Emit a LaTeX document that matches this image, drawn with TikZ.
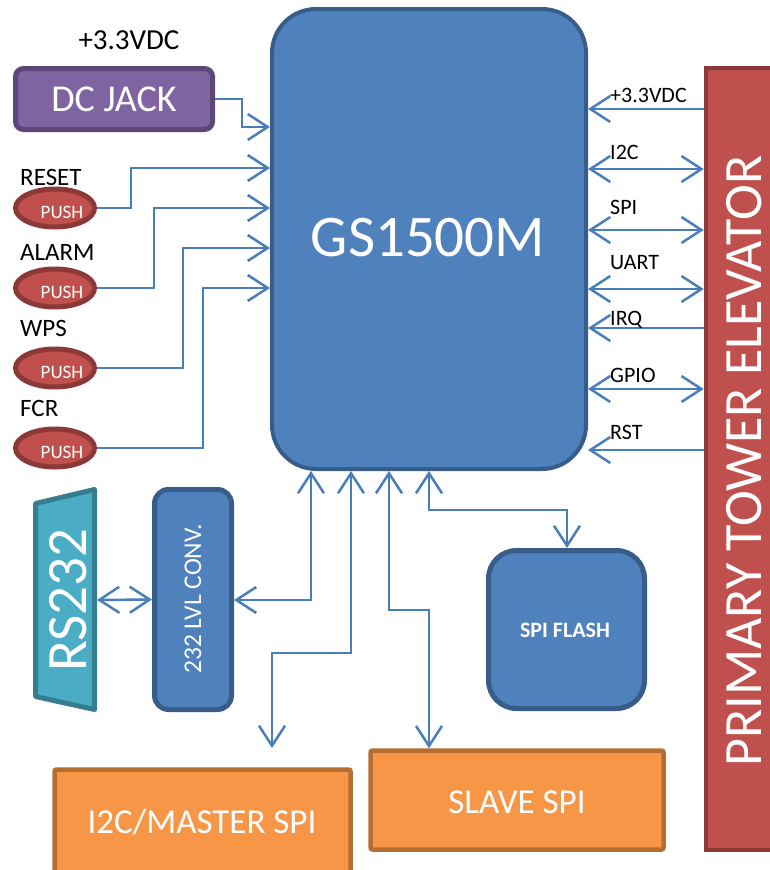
\documentclass[tikz,border=0pt]{standalone}
\usepackage{fontspec}
\setmainfont{Carlito}
\usetikzlibrary{arrows.meta,shapes.geometric}
\definecolor{gsfill}{HTML}{4F81BD}
\definecolor{gsline}{HTML}{385D8A}
\definecolor{redfill}{HTML}{C0504D}
\definecolor{redline}{HTML}{8C3836}
\definecolor{purfill}{HTML}{8064A2}
\definecolor{purline}{HTML}{5C4776}
\definecolor{orfill}{HTML}{F79646}
\definecolor{orline}{HTML}{B66D31}
\definecolor{cyfill}{HTML}{4BACC6}
\definecolor{cyline}{HTML}{357D91}
\definecolor{arrc}{HTML}{4A7EBB}
\tikzset{
  conn/.style={draw=arrc, line width=2.5pt},
  a1/.style={conn, -{Straight Barb[length=20pt,width=26pt]}},
  a0/.style={conn, {Straight Barb[length=20pt,width=26pt]}-},
  a2/.style={conn, {Straight Barb[length=20pt,width=26pt]}-{Straight Barb[length=20pt,width=26pt]}},
  bluebox/.style={draw=gsline, fill=gsfill, line width=4.5pt, inner sep=0pt},
  redbox/.style={draw=redline, fill=redfill, line width=4.5pt, inner sep=0pt},
  orbox/.style={draw=orline, fill=orfill, line width=4.5pt, inner sep=0pt, rounded corners=2pt},
  pushbtn/.style={ellipse, draw=redline, fill=redfill, line width=5pt, inner sep=0pt, minimum width=79pt, minimum height=38pt},
  wtxt/.style={text=white, inner sep=0pt},
  lbl/.style={text=black, inner sep=0pt, anchor=west, font=\fontsize{25}{27}\selectfont},
  rlbl/.style={text=black, inner sep=0pt, anchor=west, font=\fontsize{22}{24}\selectfont},
  pushtxt/.style={wtxt, font=\fontsize{19}{21}\selectfont},
}
\begin{document}
\begin{tikzpicture}[x=1pt, y=-1pt]
\useasboundingbox (0,0) rectangle (770,870);
\clip (0,0) rectangle (770,870);
% main chip
\node[bluebox, line width=4pt, minimum width=314pt, minimum height=460pt, rounded corners=44pt] (gs) at (429,239) {};
\node[wtxt, font=\fontsize{59}{62}\selectfont] (gst) at (428,238) {GS1500M};
% primary tower elevator
\node[redbox, minimum width=70pt, minimum height=782pt] (pte) at (741,459) {};
\node[wtxt, rotate=90, font=\fontsize{54}{58}\selectfont] (ptet) at (744,461) {PRIMARY TOWER ELEVATOR};
% DC jack
\node[draw=purline, fill=purfill, line width=5pt, inner sep=0pt, minimum width=197pt, minimum height=61pt, rounded corners=8pt] (dc) at (114,99) {};
\node[wtxt, font=\fontsize{38}{40}\selectfont] (dct) at (114,99) {DC JACK};
\node[text=black, inner sep=0pt, font=\fontsize{29}{31}\selectfont] (v33) at (129,40) {+3.3VDC};
% push buttons
\node[pushbtn] (b1) at (55,208) {};
\node[pushbtn] (b2) at (55,288) {};
\node[pushbtn] (b3) at (55,368) {};
\node[pushbtn] (b4) at (55,448) {};
\node[pushtxt] (p1) at (62,212) {PUSH};
\node[pushtxt] (p2) at (62,292) {PUSH};
\node[pushtxt] (p3) at (62,372) {PUSH};
\node[pushtxt] (p4) at (62,452) {PUSH};
\node[lbl] (l1) at (20,177) {RESET};
\node[lbl] (l2) at (20,252) {ALARM};
\node[lbl] (l3) at (20,328) {WPS};
\node[lbl] (l4) at (20,408) {FCR};
% RS232
\draw[draw=cyline, fill=cyfill, line width=5pt, line join=round] (35.5,503.5) -- (94.5,489.5) -- (94.5,709.5) -- (35.5,696.5) -- cycle;
\node[inner sep=0pt, outer sep=0pt, minimum width=64pt, minimum height=200pt] (rs) at (65,600) {};
\node[wtxt, rotate=90, font=\fontsize{57}{60}\selectfont] (rst) at (68,600) {RS232};
% level converter
\node[bluebox, line width=5pt, minimum width=77pt, minimum height=220pt, rounded corners=14pt] (conv) at (193,599.5) {};
\node[wtxt, rotate=90, font=\fontsize{25.5}{27}\selectfont] (convt) at (193,599) {232 LVL CONV.};
% SPI flash
\node[bluebox, line width=5pt, minimum width=156pt, minimum height=158pt, rounded corners=28pt] (flash) at (566.5,629.5) {};
\node[wtxt, font=\bfseries\fontsize{22}{24}\selectfont] (flasht) at (565,630) {SPI FLASH};
% orange boxes
\node[orbox, minimum width=293pt, minimum height=99pt] (slave) at (517,800) {};
\node[wtxt, font=\fontsize{35}{38}\selectfont] (slavet) at (517,802) {SLAVE SPI};
\node[orbox, minimum width=296pt, minimum height=131pt] (master) at (202.5,835) {};
\node[wtxt, font=\fontsize{35}{38}\selectfont] (mastert) at (202,822) {I2C/MASTER SPI};
\coordinate (m1) at (272,748);
% left connectors
\draw[a1] (dc.east) -| (242,127) -- (gs.west |- 0,127);
\draw[a1] (b1.east) -- (131,208) -- (131,168) -- (gs.west |- 0,168);
\draw[a1] (b2.east) -- (154,288) -- (154,208) -- (gs.west |- 0,208);
\draw[a1] (b3.east) -- (183,368) -- (183,248) -- (gs.west |- 0,248);
\draw[a1] (b4.east) -- (203,448) -- (203,288) -- (gs.west |- 0,288);
% right connectors
\draw[a0] (gs.east |- 0,109) -- (pte.west |- 0,109);
\draw[a2] (gs.east |- 0,169) -- (pte.west |- 0,169);
\draw[a2] (gs.east |- 0,230) -- (pte.west |- 0,230);
\draw[a2] (gs.east |- 0,289) -- (pte.west |- 0,289);
\draw[a0] (gs.east |- 0,328) -- (pte.west |- 0,328);
\draw[a2] (gs.east |- 0,389) -- (pte.west |- 0,389);
\draw[a0] (gs.east |- 0,450) -- (pte.west |- 0,450);
\node[rlbl] (r1) at (610,95) {+3.3VDC};
\node[rlbl] (r2) at (610,152) {I2C};
\node[rlbl] (r3) at (610,207) {SPI};
\node[rlbl] (r4) at (610,263) {UART};
\node[rlbl] (r5) at (610,320) {IRQ};
\node[rlbl] (r6) at (610,375) {GPIO};
\node[rlbl] (r7) at (610,432) {RST};
% bottom connectors
\draw[a2] (gs.south -| 311,0) -- (311,600) -- (conv.east |- 0,600);
\draw[a2] (gs.south -| 351,0) -- (351,653) -- (272,653) -- (m1);
\draw[a2] (gs.south -| 389,0) -- (389,610) -- (429,610) -- (slave.north -| 429,0);
\draw[a2] (gs.south -| 429,0) -- (429,510) -- (567,510) -- (flash.north -| 567,0);
\draw[a2] (rs.east) -- (conv.west);
\end{tikzpicture}
\end{document}
